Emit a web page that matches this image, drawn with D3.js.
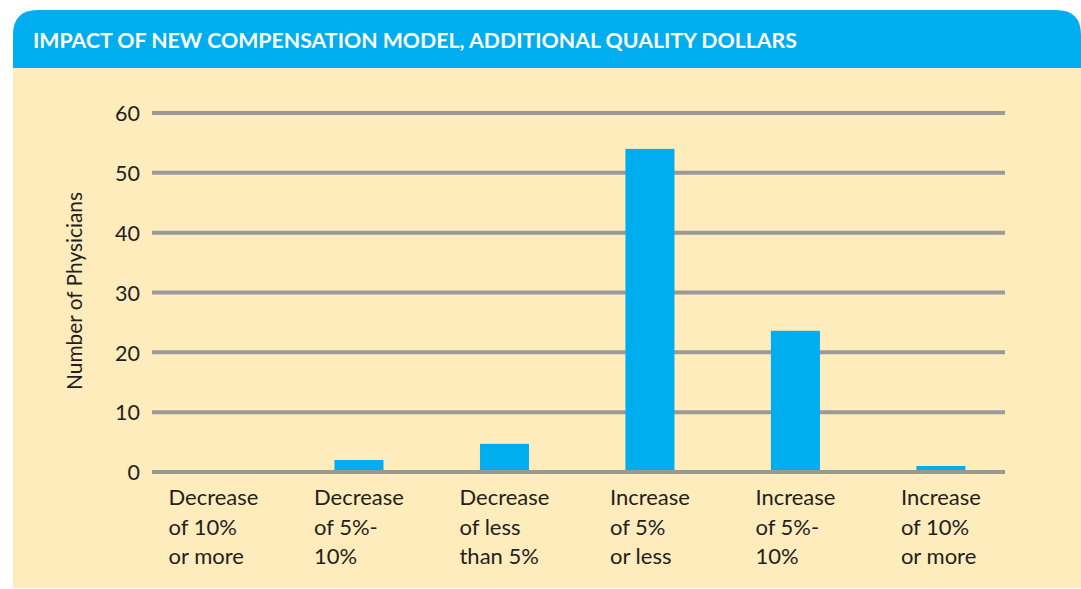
<!DOCTYPE html>
<html><head><meta charset="utf-8">
<script src="https://cdn.jsdelivr.net/npm/d3@7"></script>
<style>html,body{margin:0;padding:0;background:#fff;}svg{display:block;}</style>
</head><body>
<svg id="chart" width="1081" height="589"></svg>
<script>
const title = "IMPACT OF NEW COMPENSATION MODEL, ADDITIONAL QUALITY DOLLARS";
const yAxisTitle = "Number of Physicians";
const categories = [
  ["Decrease","of 10%","or more"],
  ["Decrease","of 5%-","10%"],
  ["Decrease","of less","than 5%"],
  ["Increase","of 5%","or less"],
  ["Increase","of 5%-","10%"],
  ["Increase","of 10%","or more"]
];
const values = [0, 2, 4.7, 54, 23.6, 1];
const yTicks = [0, 10, 20, 30, 40, 50, 60];

const svg = d3.select("#chart");
const font = "Lato, 'Open Sans', sans-serif";
const ink = "#231f20";

// panel
svg.append("rect").attr("x",13).attr("y",68).attr("width",1081-13).attr("height",588-68).attr("fill","#ffecbd");
const r = 25, hx0 = 13, hx1 = 1081, hy0 = 10, hy1 = 68;
svg.append("path")
  .attr("d",`M${hx0},${hy1} L${hx0},${hy0+r} Q${hx0},${hy0} ${hx0+r},${hy0} L${hx1-r},${hy0} Q${hx1},${hy0} ${hx1},${hy0+r} L${hx1},${hy1} Z`)
  .attr("fill","#00aeef");
const t = svg.append("text").attr("x",33).attr("y",48).attr("fill","#fff")
  .attr("font-family",font).attr("font-weight",700).attr("font-size",20).text(title);
t.attr("textLength",764).attr("lengthAdjust","spacingAndGlyphs");

const x = d3.scaleBand().domain(d3.range(categories.length)).range([150.7,1003.7]).paddingInner(0.663).paddingOuter(0.263);
const y = d3.scaleLinear().domain([0,60]).range([472,113]);

// gridlines
const grid = svg.append("g");
grid.selectAll("line").data(yTicks.filter(d=>d!==0)).join("line")
  .attr("x1",152).attr("x2",1005).attr("y1",d=>y(d)).attr("y2",d=>y(d))
  .attr("stroke","#9a9a9a").attr("stroke-width",4);

// bars
svg.append("g").selectAll("rect").data(values).join("rect")
  .attr("x",(d,i)=>x(i)).attr("width",x.bandwidth())
  .attr("y",d=>y(d)).attr("height",d=>y(0)-y(d))
  .attr("fill","#00aeef");

// zero line
svg.append("line").attr("x1",152).attr("x2",1005).attr("y1",y(0)).attr("y2",y(0))
  .attr("stroke","#9b9892").attr("stroke-width",4);

// y axis labels
const yAxis = d3.axisLeft(y).tickValues(yTicks).tickSize(0).tickPadding(0);
const ga = svg.append("g").attr("transform","translate(140,0)").call(yAxis);
ga.select(".domain").remove();
ga.selectAll("text").attr("font-family",font).attr("font-size",21.5).attr("fill",ink).attr("dy","0.36em");

// y title
const yt = svg.append("text").attr("transform","translate(82,291) rotate(-90)").attr("text-anchor","middle")
  .attr("font-family",font).attr("font-size",18).attr("fill",ink).text(yAxisTitle);
const ytl = yt.node().getComputedTextLength();
yt.attr("font-size", 18*198/ytl);

// category labels
categories.forEach((lines,i)=>{
  const g = svg.append("g");
  const texts = lines.map((s,k)=>g.append("text").attr("y",505+k*29.5)
    .attr("font-family",font).attr("font-size",22).attr("fill",ink).text(s));
  const w = d3.max(texts, tx=>tx.node().getComputedTextLength());
  const cx = x(i)+x.bandwidth()/2;
  texts.forEach(tx=>tx.attr("x",cx-w/2));
});
</script>
</body></html>
